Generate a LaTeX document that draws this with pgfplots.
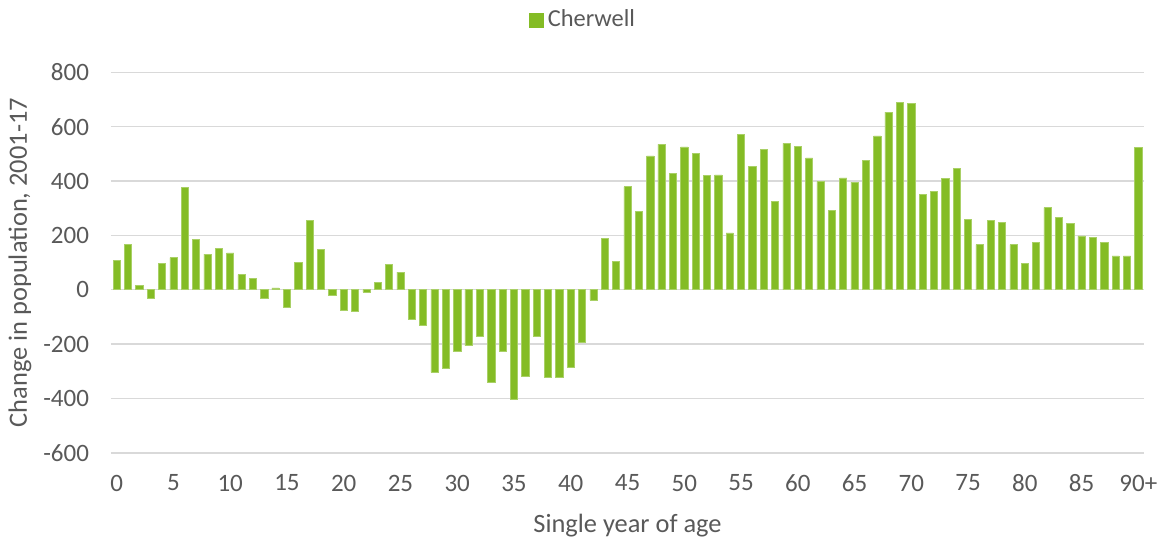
\documentclass[border=0pt]{standalone}
\usepackage{pgfplots}
\pgfplotsset{compat=1.18}
\usepackage{fontspec}
\setmainfont{Carlito}
\definecolor{barg}{HTML}{84BC25}
\definecolor{gridg}{HTML}{D9D9D9}
\definecolor{txtg}{HTML}{595959}

\pgfplotstableread{
age val
0 108
1 168
2 16
3 -33
4 96
5 118
6 377
7 185
8 131
9 152
10 136
11 56
12 43
13 -32
14 7
15 -64
16 102
17 255
18 148
19 -20
20 -76
21 -81
22 -9
23 27
24 94
25 65
26 -107
27 -129
28 -304
29 -288
30 -228
31 -206
32 -171
33 -342
34 -227
35 -404
36 -319
37 -172
38 -323
39 -323
40 -285
41 -194
42 -37
43 188
44 103
45 379
46 288
47 493
48 535
49 428
50 526
51 502
52 422
53 423
54 209
55 572
56 453
57 518
58 324
59 539
60 528
61 485
62 398
63 291
64 412
65 396
66 476
67 566
68 654
69 690
70 685
71 351
72 363
73 410
74 447
75 259
76 166
77 254
78 249
79 166
80 96
81 175
82 302
83 266
84 245
85 198
86 194
87 175
88 125
89 125
90 525
}\cherwell

\begin{document}
\begin{tikzpicture}
\path[use as bounding box] (-55.5pt,-42.6pt) rectangle (525.5pt,226.4pt);
\begin{axis}[
  at={(0pt,0pt)}, anchor=south west,
  scale only axis,
  width=516.5pt, height=190.2pt,
  xmin=-0.5, xmax=90.5,
  ymin=-600, ymax=800,
  ytick={-600,-400,...,800},
  xtick={0,5,...,90},
  xticklabels={0,5,10,15,20,25,30,35,40,45,50,55,60,65,70,75,80,85,90+},
  axis line style={draw=none},
  major tick length=0pt,
  ymajorgrids,
  grid style={gridg, line width=0.7pt},
  tick label style={font=\fontsize{12.5}{14}\selectfont, text=txtg},
  /pgf/number format/assume math mode=true,
  yticklabel style={xshift=-7.5pt},
  xticklabel style={yshift=-7.5pt},
  xlabel={Single year of age},
  ylabel={Change in population, 2001-17},
  label style={font=\fontsize{13.2}{15}\selectfont, text=txtg},
  xlabel style={yshift=-4pt},
  ylabel style={yshift=-1pt},
  legend style={draw=none, font=\fontsize{12.2}{14}\selectfont, text=txtg,
    at={(0.458,1.0)}, anchor=south, yshift=17pt, legend columns=1},
  legend image code/.code={\fill[barg] (0pt,-3.5pt) rectangle (7pt,3.5pt);},
]
\addplot[ybar, bar width=3.6pt, fill=barg, draw=barg!70!white, line width=0.3pt]
  table[x=age, y=val] {\cherwell};
\addlegendentry{Cherwell}
\end{axis}
\end{tikzpicture}
\end{document}
